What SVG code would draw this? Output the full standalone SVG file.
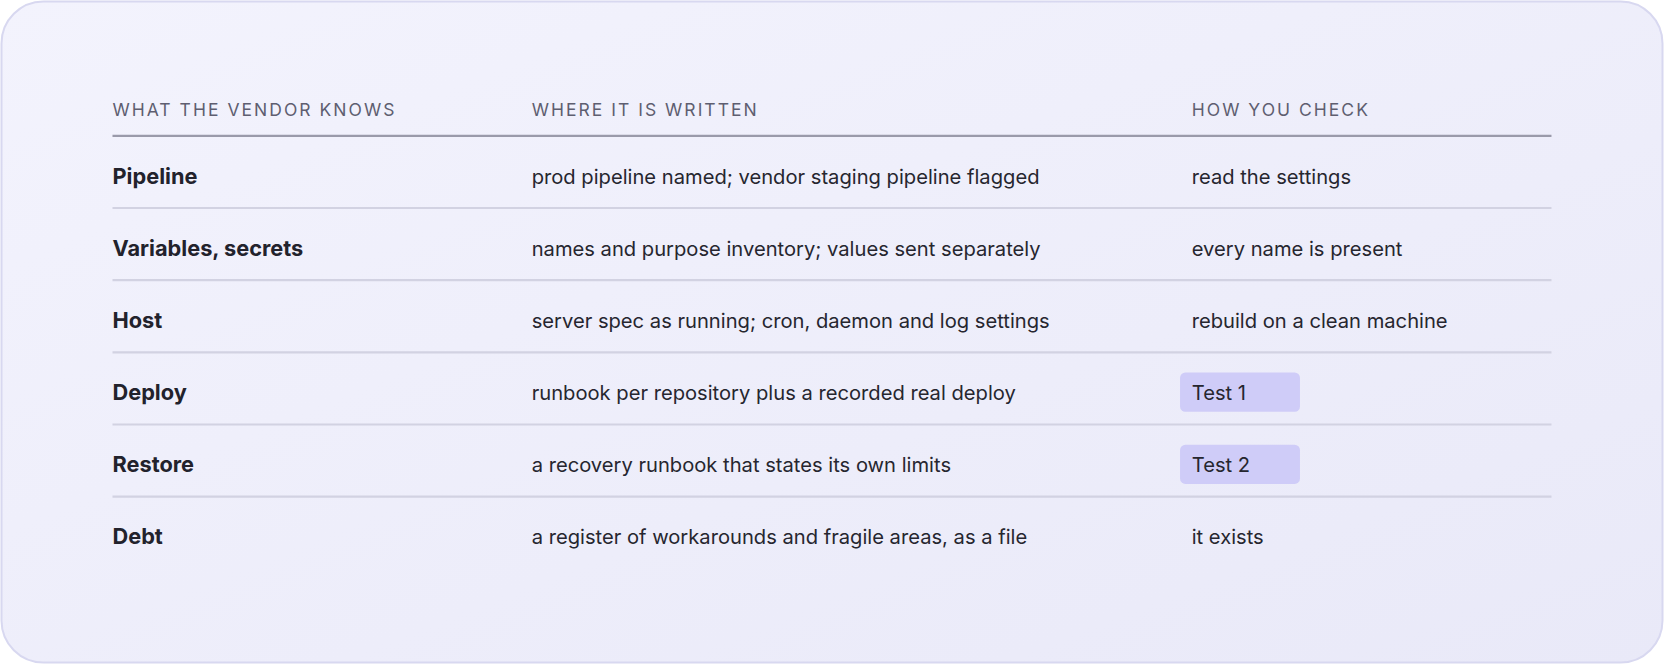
<svg xmlns="http://www.w3.org/2000/svg" width="1664" height="664" viewBox="0 0 1664 664">
<defs>
<linearGradient id="bg" x1="0" y1="0" x2="1" y2="1"><stop offset="0" stop-color="#f3f3fd"/><stop offset="1" stop-color="#e9e9f8"/></linearGradient>
<style>
.h{font-family:Inter,"Liberation Sans",sans-serif;font-size:16.5px;letter-spacing:1.9px;fill:#5e5e70}
.k{font-family:Inter,"Liberation Sans",sans-serif;font-size:20.5px;font-weight:bold;fill:#22222c}
.t{font-family:Inter,"Liberation Sans",sans-serif;font-size:19px;fill:#26262f}
.d{stroke:#d2d2e2;stroke-width:2}
.b{fill:#cfccf8}
</style>
</defs>
<rect x="1.5" y="1.5" width="1661" height="661" rx="42" fill="url(#bg)" stroke="#d8d8f0" stroke-width="2"/>
<g transform="scale(1.0612)">
<g id="header">
<text class="h" x="106" y="109">WHAT THE VENDOR KNOWS</text>
<text class="h" x="501" y="109">WHERE IT IS WRITTEN</text>
<text class="h" x="1123" y="109">HOW YOU CHECK</text>
<line x1="106" y1="128" x2="1462" y2="128" stroke="#9a9aaa" stroke-width="2"/>
</g>
<g id="dividers">
<line class="d" x1="106" y1="196" x2="1462" y2="196"/>
<line class="d" x1="106" y1="264" x2="1462" y2="264"/>
<line class="d" x1="106" y1="332" x2="1462" y2="332"/>
<line class="d" x1="106" y1="400" x2="1462" y2="400"/>
<line class="d" x1="106" y1="468" x2="1462" y2="468"/>
</g>
<g id="row-pipeline"><text class="k" x="106" y="173">Pipeline</text><text class="t" x="501" y="173">prod pipeline named; vendor staging pipeline flagged</text><text class="t" x="1123" y="173">read the settings</text></g>
<g id="row-variables"><text class="k" x="106" y="241">Variables, secrets</text><text class="t" x="501" y="241">names and purpose inventory; values sent separately</text><text class="t" x="1123" y="241">every name is present</text></g>
<g id="row-host"><text class="k" x="106" y="309">Host</text><text class="t" x="501" y="309">server spec as running; cron, daemon and log settings</text><text class="t" x="1123" y="309">rebuild on a clean machine</text></g>
<g id="row-deploy"><text class="k" x="106" y="377">Deploy</text><text class="t" x="501" y="377">runbook per repository plus a recorded real deploy</text><rect class="b" x="1112" y="351" width="113" height="37" rx="5"/><text class="t" x="1123" y="377">Test 1</text></g>
<g id="row-restore"><text class="k" x="106" y="445">Restore</text><text class="t" x="501" y="445">a recovery runbook that states its own limits</text><rect class="b" x="1112" y="419" width="113" height="37" rx="5"/><text class="t" x="1123" y="445">Test 2</text></g>
<g id="row-debt"><text class="k" x="106" y="513">Debt</text><text class="t" x="501" y="513">a register of workarounds and fragile areas, as a file</text><text class="t" x="1123" y="513">it exists</text></g>
</g>
</svg>
